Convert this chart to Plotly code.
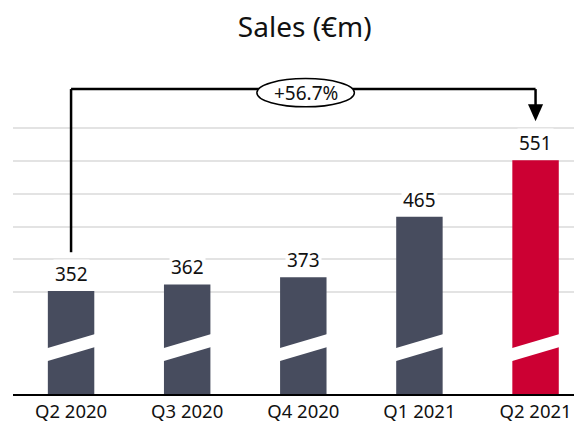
import plotly.graph_objects as go

# Quarterly sales, EUR millions
quarters = ["Q2 2020", "Q3 2020", "Q4 2020", "Q1 2021", "Q2 2021"]
sales = [352, 362, 373, 465, 551]
bar_colors = ["#474c5e", "#474c5e", "#474c5e", "#474c5e", "#cc0033"]
grid_vals = [350, 400, 450, 500, 550, 600]
growth_label = "+56.7%"

# truncated value axis (bars are drawn with a break mark)
y_min, y_max = 195.5, 688
break_low, break_high = 246, 266   # left edge of the white break band
break_rise = 20                    # band rises towards the right edge of a bar

fig = go.Figure()

fig.add_trace(go.Bar(
    x=quarters,
    y=sales,
    marker=dict(color=bar_colors, line=dict(width=0)),
    width=0.4,
    hoverinfo="skip",
))

# value labels on white boxes so the gridlines break around them
for q, v in zip(quarters, sales):
    fig.add_annotation(
        x=q, y=v, text=str(v), showarrow=False,
        yanchor="bottom", yshift=2,
        bgcolor="white", borderpad=1,
        font=dict(size=19, color="#111111"),
    )

shapes = []

# white diagonal break band through every bar
for i in range(len(quarters)):
    x0, x1 = i - 0.23, i + 0.23
    shapes.append(dict(
        type="path", xref="x", yref="y", layer="above",
        path=(f"M {x0},{break_low - 2} L {x1},{break_low + break_rise + 2} "
              f"L {x1},{break_high + break_rise + 2} L {x0},{break_high - 2} Z"),
        fillcolor="white", line=dict(width=0),
    ))

# growth bracket from first to last bar
first, last = 0, len(quarters) - 1
top = 659
shapes.append(dict(type="line", xref="x", yref="y", x0=first, x1=first,
                   y0=411, y1=top, line=dict(color="black", width=2.5)))
shapes.append(dict(type="line", xref="x", yref="y", x0=first, x1=last,
                   y0=top, y1=top, line=dict(color="black", width=2.5)))
shapes.append(dict(type="line", xref="x", yref="y", x0=last, x1=last,
                   y0=top, y1=630, line=dict(color="black", width=2.5)))
shapes.append(dict(type="path", xref="x", yref="y",
                   path=f"M {last - 0.065},636 L {last + 0.065},636 L {last},610 Z",
                   fillcolor="black", line=dict(width=0)))
shapes.append(dict(type="circle", xref="x", yref="y",
                   x0=1.6, x1=2.44, y0=632, y1=675,
                   fillcolor="white", line=dict(color="black", width=1.5)))

fig.add_annotation(x=2.02, y=653.5, text=growth_label, showarrow=False,
                   font=dict(size=19, color="#111111"))

# page body adds an 8px margin, so the figure is 8px smaller each way
fig.update_layout(
    shapes=shapes,
    width=574,
    height=422,
    margin=dict(l=5, r=0, t=62, b=36),
    paper_bgcolor="white",
    plot_bgcolor="white",
    font=dict(family="Noto Sans", color="#111111"),
    title=dict(text="Sales (€m)", x=0.517, xanchor="center", y=0.955,
               yanchor="middle", font=dict(size=28, color="#111111")),
    showlegend=False,
    bargap=0.6,
)

fig.update_xaxes(
    range=[-0.5, 4.4],
    showline=True, linecolor="black", linewidth=2,
    showgrid=False, ticks="",
    tickfont=dict(size=18.5, color="#111111"),
)

fig.update_yaxes(
    range=[y_min, y_max],
    tickvals=grid_vals, showticklabels=False,
    showgrid=True, gridcolor="#e3e3e3", gridwidth=1.5,
    zeroline=False, showline=False,
)

fig.write_html("out.html")
